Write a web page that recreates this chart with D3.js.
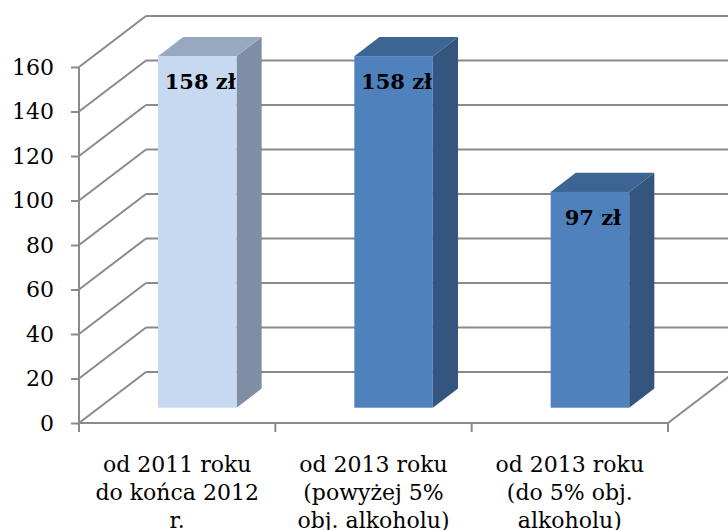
<!DOCTYPE html>
<html><head><meta charset="utf-8">
<script src="https://cdn.jsdelivr.net/npm/d3@7"></script>
<style>html,body{margin:0;padding:0;background:#fff;overflow:hidden}</style>
</head><body>
<svg id="c" width="728" height="530"></svg>
<script>
const categories = [["od 2011 roku","do końca 2012","r."],["od 2013 roku","(powyżej 5%","obj. alkoholu)"],["od 2013 roku","(do 5% obj.","alkoholu)"]];
const values = [158, 158, 97];
const labels = ["158 zł", "158 zł", "97 zł"];
const yTicks = [0, 20, 40, 60, 80, 100, 120, 140, 160];
const frontColors = ["#c6d9f1", "#4f81bd", "#4f81bd"];
const sideColors = ["#7f8ea2", "#34557d", "#34557d"];
const topColors = ["#97a9c0", "#3d6593", "#3d6593"];

const svg = d3.select("#c");
const left = 79, right = 668;
const y = d3.scaleLinear().domain([0, 160]).range([423, 67]);
const x = d3.scaleBand().domain(d3.range(categories.length)).range([left, right]).paddingInner(0.6).paddingOuter(0.3);
const depthX = 67, depthY = -51;
const dFront = 0.30, dBack = 0.675;
const gridColor = "#8a8a8a";

const g = svg.append("g");
// back wall gridlines
g.selectAll(".bg").data(yTicks).enter().append("line")
  .attr("x1", left + depthX).attr("x2", right + depthX)
  .attr("y1", d => y(d) + depthY).attr("y2", d => y(d) + depthY)
  .attr("stroke", gridColor).attr("stroke-width", 2);
// side wall diagonals
g.selectAll(".sg").data(yTicks).enter().append("line")
  .attr("x1", left).attr("x2", left + depthX)
  .attr("y1", d => y(d)).attr("y2", d => y(d) + depthY)
  .attr("stroke", gridColor).attr("stroke-width", 2);
// floor right diagonal
g.append("line").attr("x1", right).attr("y1", y(0)).attr("x2", right + depthX).attr("y2", y(0) + depthY)
  .attr("stroke", gridColor).attr("stroke-width", 2);

// bars
values.forEach((v, i) => {
  const x0 = x(i) + dFront * depthX, x1 = x0 + x.bandwidth();
  const yb = y(0) + dFront * depthY, yt = y(v) + dFront * depthY;
  const ddx = (dBack - dFront) * depthX, ddy = (dBack - dFront) * depthY;
  g.append("path").attr("d", `M${x1},${yt}L${x1+ddx},${yt+ddy}L${x1+ddx},${yb+ddy}L${x1},${yb}Z`).attr("fill", sideColors[i]);
  g.append("path").attr("d", `M${x0},${yt}L${x0+ddx},${yt+ddy}L${x1+ddx},${yt+ddy}L${x1},${yt}Z`).attr("fill", topColors[i]);
  g.append("rect").attr("x", x0).attr("y", yt).attr("width", x1 - x0).attr("height", yb - yt).attr("fill", frontColors[i]);
  g.append("text").attr("x", (x0 + x1) / 2 + 3).attr("y", yt + 33)
    .attr("text-anchor", "middle").attr("font-family", "DejaVu Serif").attr("font-weight", "bold")
    .attr("font-size", 21).attr("fill", "#000").text(labels[i]);
});

// front floor edge / x axis
const xAxisG = svg.append("g").attr("transform", `translate(0,${y(0)})`);
xAxisG.append("line").attr("x1", left).attr("x2", right).attr("stroke", gridColor).attr("stroke-width", 2);
const xTickPos = d3.range(categories.length + 1).map(i => left + i * x.step());
xAxisG.selectAll(".xt").data(xTickPos).enter().append("line")
  .attr("x1", d => d).attr("x2", d => d).attr("y1", 0).attr("y2", 9)
  .attr("stroke", gridColor).attr("stroke-width", 2);
const catText = xAxisG.selectAll(".cl").data(categories).enter().append("text")
  .attr("text-anchor", "middle").attr("font-family", "DejaVu Serif").attr("font-size", 22).attr("fill", "#000")
  .attr("transform", (d, i) => `translate(${x(i) + x.bandwidth() / 2},0)`);
catText.selectAll("tspan").data(d => d).enter().append("tspan")
  .attr("x", 0).attr("y", (d, j) => 49 + j * 28).text(d => d);

// y axis
const yAxis = d3.axisLeft(y).tickValues(yTicks).tickSize(8).tickPadding(17);
const yG = svg.append("g").attr("transform", `translate(${left},0)`).call(yAxis);
yG.select(".domain").attr("stroke", gridColor).attr("stroke-width", 2).attr("d", `M0,${y(160)}V${y(0)}`);
yG.selectAll(".tick line").attr("stroke", gridColor).attr("stroke-width", 2);
yG.selectAll(".tick text").attr("font-family", "DejaVu Serif").attr("font-size", 22).attr("fill", "#000");
</script>
</body></html>
